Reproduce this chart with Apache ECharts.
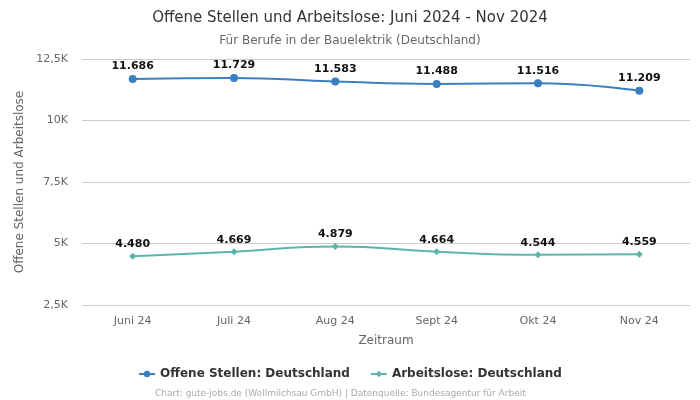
<!DOCTYPE html>
<html><head><meta charset="utf-8">
<script src="https://cdn.jsdelivr.net/npm/echarts@6/dist/echarts.min.js"></script>
<style>html,body{margin:0;padding:0;background:#fff}#c{width:700px;height:400px}</style>
</head><body><div id="c"></div>
<script>
const categories = ['Juni 24','Juli 24','Aug 24','Sept 24','Okt 24','Nov 24'];
const offeneStellen = [11686, 11729, 11583, 11488, 11516, 11209];
const arbeitslose = [4480, 4669, 4879, 4664, 4544, 4559];
const seriesNames = ['Offene Stellen: Deutschland', 'Arbeitslose: Deutschland'];

const fmt = v => v.toLocaleString('de-DE');
const axFmt = v => (v/1000).toString().replace('.', ',') + 'K';
const font = 'DejaVu Sans';
const chart = echarts.init(document.getElementById('c'), null, {renderer:'canvas'});
chart.setOption({
  animation:false,
  textStyle:{fontFamily:font},
  title:[{text:'Offene Stellen und Arbeitslose: Juni 2024 - Nov 2024', left:'center', top:6,
    textStyle:{fontFamily:font, fontSize:15, fontWeight:'normal', color:'#333'}},
    {text:'Für Berufe in der Bauelektrik (Deutschland)', left:'center', top:30,
    textStyle:{fontFamily:font, fontSize:12, fontWeight:'normal', color:'#666'}},
    {text:'Chart: gute-jobs.de (Wollmilchsau GmbH) | Datenquelle: Bundesagentur für Arbeit', left:150, top:384,
    textStyle:{fontFamily:font, fontSize:9, fontWeight:'normal', color:'#aaa'}}],
  legend:{bottom:15, left:'center', itemGap:20, itemWidth:16, itemHeight:8,
    textStyle:{fontFamily:font, fontSize:12, fontWeight:'bold', color:'#333'}},
  grid:{left:82, right:10, top:59, bottom:95},
  xAxis:{type:'category', data:categories, boundaryGap:true,
    name:'Zeitraum', nameLocation:'middle', nameGap:30,
    nameTextStyle:{fontFamily:font, fontSize:12, color:'#666'},
    axisLine:{show:false}, axisTick:{show:false},
    axisLabel:{fontFamily:font, fontSize:11, color:'#666', margin:11}},
  yAxis:{type:'value', min:2500, max:12500, interval:2500,
    name:'Offene Stellen und Arbeitslose', nameLocation:'middle', nameGap:55,
    nameTextStyle:{fontFamily:font, fontSize:12, color:'#666'},
    axisLabel:{formatter:axFmt, fontFamily:font, fontSize:11, color:'#666', margin:14},
    splitLine:{lineStyle:{color:'#ccc'}}},
  series:[
    {name:seriesNames[0], type:'line', smooth:true, data:offeneStellen,
      symbol:'circle', symbolSize:8, color:'#3a7fbf', lineStyle:{width:2},
      label:{show:true, position:'top', formatter:p=>fmt(p.value), fontFamily:font, fontSize:11, fontWeight:'bold', color:'#111', distance:3}},
    {name:seriesNames[1], type:'line', smooth:true, data:arbeitslose,
      symbol:'diamond', symbolSize:7, color:'#5bb5ac', lineStyle:{width:2},
      label:{show:true, position:'top', formatter:p=>fmt(p.value), fontFamily:font, fontSize:11, fontWeight:'bold', color:'#111', distance:3}}
  ]
});
</script></body></html>
